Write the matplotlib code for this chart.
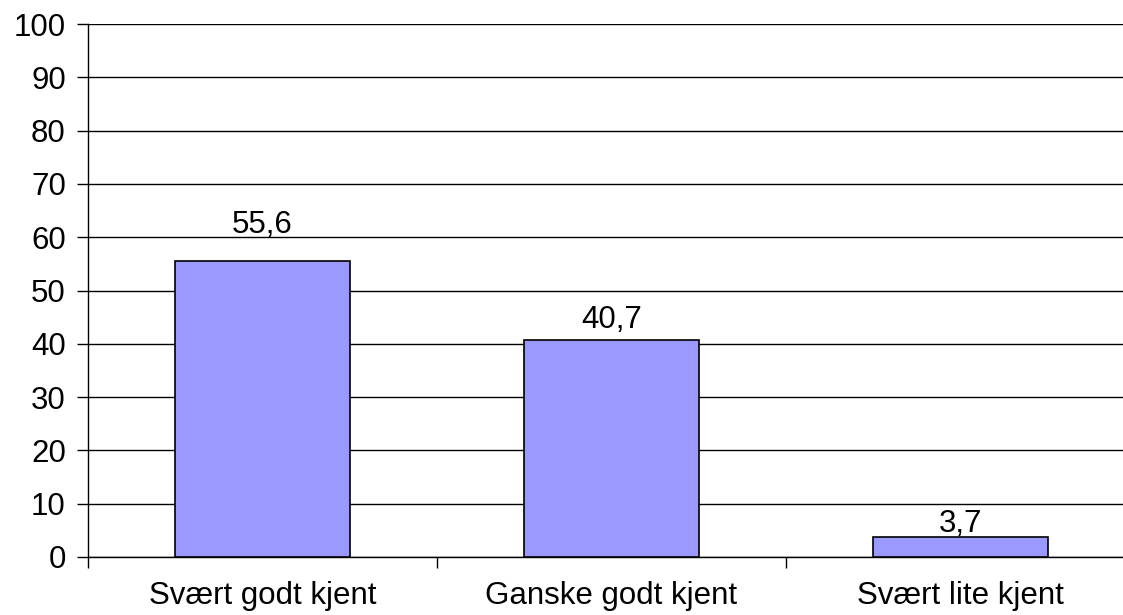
import matplotlib.pyplot as plt
import numpy as np

categories = ["Svært godt kjent", "Ganske godt kjent", "Svært lite kjent"]
values = [55.6, 40.7, 3.7]
labels = ["55,6", "40,7", "3,7"]

plt.rcParams['font.family'] = ['Liberation Sans', 'DejaVu Sans']
fs = 22.5

fig = plt.figure(figsize=(11.23, 6.15), dpi=100)
ax = fig.add_axes([88 / 1123, 1 - 557 / 615, 1047 / 1123, 533 / 615])

x = np.arange(len(categories))
ax.bar(x, values, width=0.5, color="#9999ff", edgecolor="black", linewidth=1.2, zorder=3)

# label gaps above bars (points), as in the original
gaps = [20, 8.6, 3.6]
for xi, v, lab, g in zip(x, values, labels, gaps):
    ax.annotate(lab, (xi, v), xytext=(0, g), textcoords="offset points",
                ha="center", va="baseline", fontsize=fs)

ax.set_xlim(-0.5, 2.5)
ax.set_ylim(0, 100)
ax.set_yticks(np.arange(0, 101, 10))
ax.yaxis.grid(True, color="black", linewidth=1)
ax.set_axisbelow(True)

ax.set_xticks(x)
ax.set_xticklabels(categories)
ax.set_xticks([-0.5, 0.5, 1.5, 2.5], minor=True)
ax.tick_params(axis="x", which="major", length=0, pad=17.5, labelsize=fs)
ax.tick_params(axis="x", which="minor", length=8, width=1, direction="out")
ax.tick_params(axis="y", length=8, width=1, labelsize=fs, pad=8)

ax.spines["top"].set_visible(False)
ax.spines["right"].set_visible(False)
ax.spines["left"].set_linewidth(1)
ax.spines["bottom"].set_linewidth(1)

fig.savefig("out.png", dpi=100)
